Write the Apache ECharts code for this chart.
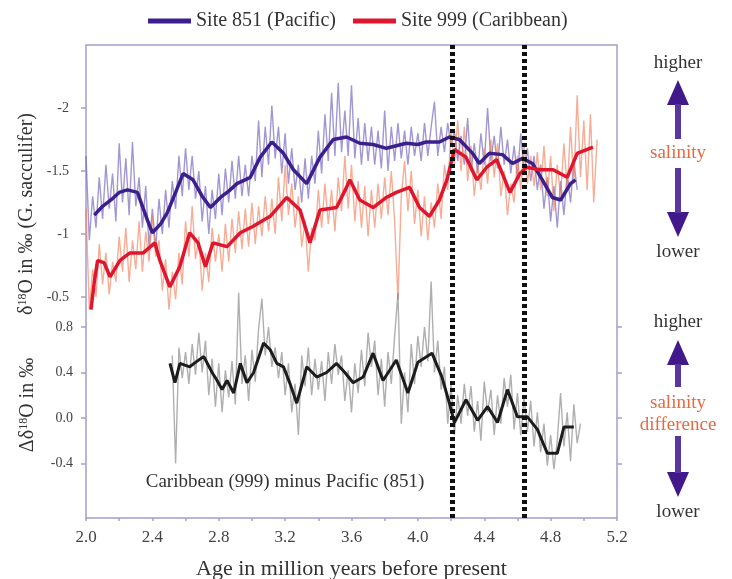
<!DOCTYPE html>
<html>
<head>
<meta charset="utf-8">
<script src="https://cdn.jsdelivr.net/npm/echarts@6/dist/echarts.min.js"></script>
<style>
  html, body { margin: 0; padding: 0; background: #fff; }
  #chart { width: 732px; height: 579px; }
</style>
</head>
<body>
<div id="chart"></div>
<script>
// Age (Ma) and d18O (per mil) records
const pacificRaw = [
  [2.00,-1.62],[2.02,-0.95],[2.04,-1.30],[2.06,-1.05],[2.08,-1.45],[2.10,-1.12],[2.12,-1.55],[2.14,-1.20],[2.16,-1.48],[2.18,-1.10],
  [2.20,-1.72],[2.22,-1.25],[2.24,-1.60],[2.26,-1.15],[2.28,-1.73],[2.30,-1.22],[2.32,-1.45],[2.34,-1.05],[2.36,-1.38],[2.38,-0.90],
  [2.40,-1.20],[2.42,-0.88],[2.44,-1.28],[2.46,-1.00],[2.48,-1.35],[2.50,-1.05],[2.52,-1.42],[2.54,-1.20],[2.56,-1.62],[2.58,-1.30],
  [2.60,-1.68],[2.62,-1.35],[2.64,-1.62],[2.66,-1.28],[2.68,-1.50],[2.70,-1.10],[2.72,-1.38],[2.74,-1.00],[2.76,-1.35],[2.78,-1.12],
  [2.80,-1.48],[2.82,-1.15],[2.84,-1.52],[2.86,-1.25],[2.88,-1.58],[2.90,-1.28],[2.92,-1.62],[2.94,-1.30],[2.96,-1.55],[2.98,-1.30],
  [3.00,-1.62],[3.02,-1.42],[3.04,-1.90],[3.06,-1.45],[3.08,-1.85],[3.10,-1.55],[3.12,-2.02],[3.14,-1.60],[3.16,-1.85],[3.18,-1.48],
  [3.20,-1.80],[3.22,-1.40],[3.24,-1.68],[3.26,-1.35],[3.28,-1.55],[3.30,-1.25],[3.32,-1.60],[3.34,-1.28],[3.36,-1.62],[3.38,-1.40],
  [3.40,-1.82],[3.42,-1.48],[3.44,-1.95],[3.46,-1.58],[3.48,-2.12],[3.50,-1.62],[3.52,-2.20],[3.54,-1.65],[3.56,-1.98],[3.58,-1.62],
  [3.60,-2.18],[3.62,-1.60],[3.64,-1.92],[3.66,-1.55],[3.68,-1.88],[3.70,-1.58],[3.72,-1.85],[3.74,-1.55],[3.76,-1.82],[3.78,-1.52],
  [3.80,-1.98],[3.82,-1.50],[3.84,-1.85],[3.86,-1.58],[3.88,-1.88],[3.90,-1.60],[3.92,-1.82],[3.94,-1.55],[3.96,-1.85],[3.98,-1.62],
  [4.00,-1.80],[4.02,-1.58],[4.04,-1.88],[4.06,-1.62],[4.08,-1.85],[4.10,-2.05],[4.12,-1.62],[4.14,-1.85],[4.16,-1.65],[4.18,-1.88],
  [4.20,-1.70],[4.22,-1.82],[4.24,-1.58],[4.26,-1.78],[4.28,-1.55],[4.30,-1.92],[4.32,-1.50],[4.34,-1.72],[4.36,-1.48],[4.38,-1.80],
  [4.40,-1.55],[4.42,-2.00],[4.44,-1.58],[4.46,-1.78],[4.48,-1.52],[4.50,-1.85],[4.52,-1.55],[4.54,-1.75],[4.56,-1.48],[4.58,-1.70],
  [4.60,-1.45],[4.62,-1.80],[4.64,-1.50],[4.66,-1.68],[4.68,-1.42],[4.70,-1.62],[4.72,-1.35],[4.74,-1.55],[4.76,-1.20],[4.78,-1.45],
  [4.80,-1.10],[4.82,-1.38],[4.84,-1.05],[4.86,-1.42],[4.88,-1.15],[4.90,-1.48],[4.92,-1.25],[4.94,-1.58],[4.96,-1.35]
];
const pacificSmooth = [
  [2.05,-1.15],[2.10,-1.22],[2.15,-1.27],[2.20,-1.33],[2.25,-1.35],[2.31,-1.33],[2.37,-1.11],[2.40,-1.01],[2.45,-1.08],[2.49,-1.17],
  [2.54,-1.33],[2.585,-1.48],[2.645,-1.43],[2.70,-1.30],[2.75,-1.21],[2.81,-1.29],[2.86,-1.34],[2.91,-1.40],[2.99,-1.45],[3.05,-1.61],
  [3.12,-1.73],[3.19,-1.64],[3.25,-1.51],[3.33,-1.40],[3.41,-1.61],[3.49,-1.75],[3.57,-1.77],[3.65,-1.72],[3.73,-1.71],[3.81,-1.68],
  [3.87,-1.70],[3.93,-1.72],[4.00,-1.71],[4.05,-1.73],[4.13,-1.73],[4.19,-1.77],[4.25,-1.75],[4.33,-1.64],[4.37,-1.56],[4.43,-1.64],
  [4.51,-1.63],[4.57,-1.56],[4.63,-1.60],[4.69,-1.56],[4.75,-1.43],[4.81,-1.29],[4.86,-1.27],[4.92,-1.40],[4.95,-1.43]
];
const caribbeanRaw = [
  [2.00,-1.20],[2.02,-0.40],[2.04,-0.72],[2.06,-0.50],[2.08,-0.92],[2.10,-0.60],[2.12,-0.85],[2.14,-0.52],[2.16,-0.78],[2.18,-0.62],
  [2.20,-0.98],[2.22,-0.70],[2.24,-1.05],[2.26,-0.62],[2.28,-0.95],[2.30,-0.72],[2.32,-1.10],[2.34,-0.70],[2.36,-1.02],[2.38,-0.78],
  [2.40,-1.15],[2.42,-0.82],[2.44,-0.95],[2.46,-0.55],[2.48,-0.80],[2.50,-0.40],[2.52,-0.70],[2.54,-0.48],[2.56,-0.85],[2.58,-0.60],
  [2.60,-1.10],[2.62,-0.82],[2.64,-1.22],[2.66,-0.80],[2.68,-0.98],[2.70,-0.55],[2.72,-0.85],[2.74,-0.62],[2.76,-1.05],[2.78,-0.78],
  [2.80,-1.00],[2.82,-0.70],[2.84,-1.08],[2.86,-0.78],[2.88,-1.12],[2.90,-0.85],[2.92,-1.18],[2.94,-0.88],[2.96,-1.20],[2.98,-0.90],
  [3.00,-1.25],[3.02,-0.92],[3.04,-1.22],[3.06,-0.98],[3.08,-1.30],[3.10,-1.02],[3.12,-1.28],[3.14,-1.00],[3.16,-1.45],[3.18,-1.10],
  [3.20,-1.55],[3.22,-1.15],[3.24,-1.40],[3.26,-1.05],[3.28,-1.30],[3.30,-0.90],[3.32,-1.10],[3.34,-0.70],[3.36,-1.05],[3.38,-0.95],
  [3.40,-1.35],[3.42,-1.05],[3.44,-1.40],[3.46,-1.08],[3.48,-1.35],[3.50,-1.02],[3.52,-1.45],[3.54,-1.18],[3.56,-1.62],[3.58,-1.20],
  [3.60,-1.55],[3.62,-1.10],[3.64,-1.42],[3.66,-1.05],[3.68,-1.38],[3.70,-0.98],[3.72,-1.35],[3.74,-1.05],[3.76,-1.40],[3.78,-1.12],
  [3.80,-1.45],[3.82,-1.15],[3.84,-1.50],[3.86,-1.10],[3.88,-0.48],[3.90,-1.30],[3.92,-1.58],[3.94,-1.18],[3.96,-1.50],[3.98,-1.08],
  [4.00,-1.35],[4.02,-0.98],[4.04,-1.30],[4.06,-0.95],[4.08,-1.25],[4.10,-1.05],[4.12,-1.40],[4.14,-1.12],[4.16,-1.55],[4.18,-1.35],
  [4.20,-1.82],[4.22,-1.55],[4.24,-1.90],[4.26,-1.50],[4.28,-1.85],[4.30,-1.42],[4.32,-1.70],[4.34,-1.30],[4.36,-1.55],[4.38,-1.35],
  [4.40,-1.68],[4.42,-1.40],[4.44,-1.75],[4.46,-1.45],[4.48,-1.72],[4.50,-1.30],[4.52,-1.50],[4.54,-1.15],[4.56,-1.40],[4.58,-1.25],
  [4.60,-1.62],[4.62,-1.35],[4.64,-1.70],[4.66,-1.40],[4.68,-1.62],[4.70,-1.38],[4.72,-1.65],[4.74,-1.35],[4.76,-1.70],[4.78,-1.30],
  [4.80,-1.62],[4.82,-1.18],[4.84,-1.55],[4.86,-1.30],[4.88,-1.72],[4.90,-1.35],[4.92,-1.85],[4.94,-1.40],[4.96,-2.10],[4.98,-1.45],
  [5.00,-1.90],[5.02,-1.35],[5.04,-1.95],[5.06,-1.25],[5.08,-1.75]
];
const caribbeanSmooth = [
  [2.03,-0.40],[2.05,-0.62],[2.07,-0.79],[2.11,-0.77],[2.145,-0.66],[2.205,-0.79],[2.265,-0.85],[2.345,-0.85],[2.415,-0.93],[2.445,-0.79],
  [2.505,-0.58],[2.565,-0.74],[2.625,-1.01],[2.675,-0.93],[2.72,-0.74],[2.765,-0.93],[2.85,-0.90],[2.93,-1.01],[3.005,-1.06],[3.11,-1.14],
  [3.21,-1.29],[3.29,-1.19],[3.35,-0.93],[3.41,-1.19],[3.51,-1.21],[3.57,-1.37],[3.59,-1.43],[3.65,-1.27],[3.73,-1.21],[3.81,-1.29],
  [3.87,-1.33],[3.95,-1.37],[4.01,-1.21],[4.07,-1.14],[4.13,-1.27],[4.175,-1.43],[4.22,-1.67],[4.29,-1.61],[4.355,-1.43],[4.415,-1.53],
  [4.475,-1.59],[4.555,-1.33],[4.615,-1.48],[4.655,-1.53],[4.735,-1.51],[4.815,-1.51],[4.90,-1.45],[4.96,-1.64],[5.055,-1.69]
];
// Caribbean minus Pacific difference
const diffRaw = [
  [2.52,0.55],[2.54,-0.40],[2.56,0.62],[2.58,0.35],[2.60,0.58],[2.62,0.30],[2.64,0.65],[2.66,0.38],[2.68,0.75],[2.70,0.40],
  [2.72,0.68],[2.74,0.20],[2.76,0.52],[2.78,0.10],[2.80,0.48],[2.82,0.05],[2.84,0.42],[2.86,0.18],[2.88,0.50],[2.90,0.12],
  [2.92,1.10],[2.94,0.30],[2.96,0.55],[2.98,0.15],[3.00,0.60],[3.02,0.32],[3.04,0.78],[3.06,1.05],[3.08,0.55],[3.10,0.80],
  [3.12,0.45],[3.14,0.62],[3.16,0.35],[3.18,0.58],[3.20,0.20],[3.22,0.48],[3.24,0.05],[3.26,0.30],[3.28,-0.15],[3.30,0.55],
  [3.32,0.28],[3.34,0.62],[3.36,0.20],[3.38,0.52],[3.40,0.25],[3.42,0.50],[3.44,0.15],[3.46,0.58],[3.48,0.30],[3.50,0.65],
  [3.52,0.38],[3.54,0.55],[3.56,0.15],[3.58,0.42],[3.60,0.05],[3.62,0.48],[3.64,0.22],[3.66,0.60],[3.68,0.28],[3.70,0.75],
  [3.72,0.45],[3.74,0.68],[3.76,0.20],[3.78,0.52],[3.80,0.10],[3.82,0.58],[3.84,0.30],[3.86,0.72],[3.88,1.10],[3.90,-0.05],
  [3.92,0.40],[3.94,0.05],[3.96,0.65],[3.98,0.30],[4.00,0.72],[4.02,0.45],[4.04,0.80],[4.06,0.50],[4.08,1.20],[4.10,0.40],
  [4.12,0.68],[4.14,0.25],[4.16,0.45],[4.18,-0.05],[4.20,0.30],[4.22,-0.15],[4.24,0.20],[4.26,-0.05],[4.28,0.30],[4.30,0.02],
  [4.32,0.28],[4.34,-0.12],[4.36,0.15],[4.38,-0.20],[4.40,0.32],[4.42,0.05],[4.44,0.25],[4.46,-0.15],[4.48,0.20],[4.50,-0.05],
  [4.52,0.35],[4.54,0.10],[4.56,0.38],[4.58,-0.10],[4.60,0.22],[4.62,-0.15],[4.64,0.18],[4.66,-0.12],[4.68,0.15],[4.70,-0.25],
  [4.72,0.05],[4.74,-0.30],[4.76,-0.05],[4.78,-0.42],[4.80,-0.15],[4.82,-0.45],[4.84,-0.20],[4.86,0.22],[4.88,-0.25],[4.90,0.05],
  [4.92,-0.38],[4.94,0.12],[4.96,-0.22],[4.98,-0.05]
];
const diffSmooth = [
  [2.506,0.48],[2.536,0.31],[2.566,0.48],[2.625,0.45],[2.67,0.50],[2.71,0.54],[2.76,0.40],[2.79,0.33],[2.82,0.25],[2.85,0.33],
  [2.89,0.22],[2.93,0.48],[2.97,0.31],[3.01,0.40],[3.07,0.66],[3.11,0.60],[3.15,0.48],[3.19,0.45],[3.23,0.30],[3.27,0.13],
  [3.33,0.45],[3.39,0.36],[3.45,0.40],[3.51,0.48],[3.56,0.40],[3.61,0.31],[3.67,0.36],[3.73,0.57],[3.79,0.33],[3.87,0.51],
  [3.94,0.22],[4.00,0.49],[4.085,0.57],[4.145,0.36],[4.19,0.13],[4.22,-0.04],[4.29,0.16],[4.36,-0.02],[4.42,0.10],[4.48,-0.04],
  [4.54,0.25],[4.60,0.01],[4.66,0.01],[4.72,-0.10],[4.78,-0.31],[4.84,-0.31],[4.88,-0.08],[4.94,-0.08]
];
const boundaryAges = [4.21, 4.64];
const topTicks = [-2, -1.5, -1, -0.5];
const diffTicks = [0.8, 0.4, 0.0, -0.4];

const SERIF = '"Liberation Serif", "DejaVu Serif", serif';
const FRAME = '#a79dcb';
const ARROW = '#42198a';

const chart = echarts.init(document.getElementById('chart'), null, { renderer: 'canvas' });

// both panels share one plotting rectangle; only the y scales differ
const gridBox = { left: 86, right: 115, top: 45, bottom: 61, outerBoundsMode: 'none', containLabel: false };

function arrow(cx, tipY, baseY, shaftEnd, up) {
  // head triangle + shaft
  return [
    { type: 'polygon', shape: { points: [[cx, tipY], [cx - 11, baseY], [cx + 11, baseY]] }, style: { fill: ARROW } },
    { type: 'rect', shape: up ? { x: cx - 3, y: baseY - 1, width: 6, height: shaftEnd - baseY + 1 }
                             : { x: cx - 3, y: shaftEnd, width: 6, height: baseY - shaftEnd + 1 },
      style: { fill: '#5a37a0' } }
  ];
}

function label(x, y, text, color, size) {
  return { type: 'text', x: x, y: y, style: { text: text, fill: color || '#333', font: (size || 19) + 'px ' + SERIF, align: 'center', verticalAlign: 'middle' } };
}

const option = {
  backgroundColor: '#fff',
  animation: false,
  legend: {
    data: ['Site 851 (Pacific)', 'Site 999 (Caribbean)'],
    left: 148, top: 11, padding: 0,
    icon: 'rect', itemWidth: 43, itemHeight: 5, itemGap: 17,
    textStyle: { fontFamily: SERIF, fontSize: 20, color: '#333' }
  },
  grid: [
    Object.assign({ show: true, borderColor: FRAME, borderWidth: 1.5, backgroundColor: 'transparent' }, gridBox),
    Object.assign({ show: false }, gridBox)
  ],
  xAxis: [
    {
      type: 'value', gridIndex: 0, position: 'bottom', min: 2.0, max: 5.2, interval: 0.2,
      axisLine: { show: false, onZero: false },
      axisTick: { show: true, inside: false, length: 3, lineStyle: { color: FRAME, width: 1.5 } },
      axisLabel: {
        margin: 11, fontFamily: SERIF, fontSize: 17, color: '#444',
        formatter: v => (Math.round(v * 10) % 4 === 0 ? v.toFixed(1) : '')
      },
      splitLine: { show: false },
      name: 'Age in million years before present', nameLocation: 'middle', nameGap: 40,
      nameTextStyle: { fontFamily: SERIF, fontSize: 22, color: '#333' }
    },
    { type: 'value', gridIndex: 1, min: 2.0, max: 5.2, show: false, axisLine: { onZero: false } }
  ],
  yAxis: [
    {
      type: 'value', gridIndex: 0, inverse: true, min: -2.5, max: 1.254,
      axisLine: { show: false, onZero: false },
      axisTick: { show: true, length: 5, customValues: topTicks, lineStyle: { color: FRAME, width: 1.5 } },
      axisLabel: { customValues: topTicks, margin: 17, fontFamily: SERIF, fontSize: 14, color: '#444', formatter: v => String(v) },
      splitLine: { show: false }
    },
    {
      type: 'value', gridIndex: 1, min: -0.879, max: 3.279,
      axisLine: { show: false, onZero: false },
      axisTick: { show: true, length: 5, customValues: diffTicks, lineStyle: { color: FRAME, width: 1.5 } },
      axisLabel: { customValues: diffTicks, margin: 13, fontFamily: SERIF, fontSize: 14, color: '#444', formatter: v => v.toFixed(1) },
      splitLine: { show: false }
    },
    {
      type: 'value', gridIndex: 1, position: 'right', min: -0.879, max: 3.279,
      axisLine: { show: false, onZero: false },
      axisTick: { show: true, length: 5, customValues: diffTicks, lineStyle: { color: FRAME, width: 1.5 } },
      axisLabel: { show: false, customValues: diffTicks },
      splitLine: { show: false }
    }
  ],
  series: [
    {
      name: 'pacific-raw', type: 'line', xAxisIndex: 0, yAxisIndex: 0, data: pacificRaw, showSymbol: false, symbol: 'none',
      lineStyle: { color: 'rgba(100,82,178,0.6)', width: 1.4 }, z: 2
    },
    {
      name: 'caribbean-raw', type: 'line', xAxisIndex: 0, yAxisIndex: 0, data: caribbeanRaw, showSymbol: false, symbol: 'none',
      lineStyle: { color: 'rgba(240,118,78,0.6)', width: 1.4 }, z: 2
    },
    {
      name: 'Site 851 (Pacific)', type: 'line', xAxisIndex: 0, yAxisIndex: 0, data: pacificSmooth, showSymbol: false, symbol: 'none',
      itemStyle: { color: '#3b1f8c' }, lineStyle: { color: '#3b1f8c', width: 3.5 }, z: 3
    },
    {
      name: 'Site 999 (Caribbean)', type: 'line', xAxisIndex: 0, yAxisIndex: 0, data: caribbeanSmooth, showSymbol: false, symbol: 'none',
      itemStyle: { color: '#e0152e' }, lineStyle: { color: '#e0152e', width: 3.5 }, z: 4,
      markLine: {
        silent: true, symbol: 'none', z: 10,
        label: { show: false },
        lineStyle: { color: '#111', width: 5, type: [4, 3] },
        data: boundaryAges.map(a => ({ xAxis: a }))
      }
    },
    {
      name: 'diff-raw', type: 'line', xAxisIndex: 1, yAxisIndex: 1, data: diffRaw, showSymbol: false, symbol: 'none',
      lineStyle: { color: 'rgba(95,95,95,0.5)', width: 1.4 }, z: 2
    },
    {
      name: 'diff-smooth', type: 'line', xAxisIndex: 1, yAxisIndex: 1, data: diffSmooth, showSymbol: false, symbol: 'none',
      lineStyle: { color: '#1c1c1c', width: 3 }, z: 3
    }
  ],
  graphic: [
    {
      type: 'text', x: 27, y: 214, rotation: Math.PI / 2,
      style: {
        text: '{a|δ}{s|18}{a|O in ‰ (G. sacculifer)}', align: 'center', verticalAlign: 'middle',
        rich: {
          a: { fontFamily: SERIF, fontSize: 20, fill: '#333' },
          s: { fontFamily: SERIF, fontSize: 12, fill: '#333', verticalAlign: 'top', padding: [0, 0, 9, 0] }
        }
      }
    },
    {
      type: 'text', x: 28, y: 405, rotation: Math.PI / 2,
      style: {
        text: '{a|Δδ}{s|18}{a|O in ‰}', align: 'center', verticalAlign: 'middle',
        rich: {
          a: { fontFamily: SERIF, fontSize: 20, fill: '#333' },
          s: { fontFamily: SERIF, fontSize: 12, fill: '#333', verticalAlign: 'top', padding: [0, 0, 9, 0] }
        }
      }
    },
    label(285, 482, 'Caribbean (999) minus Pacific (851)', '#333', 19),
    label(678, 63, 'higher'),
    ...arrow(678, 80, 105, 139, true),
    label(678, 153, 'salinity', '#e8693f'),
    ...arrow(678, 237, 212, 168, false),
    label(678, 252, 'lower'),
    label(678, 322, 'higher'),
    ...arrow(678, 340, 365, 387, true),
    label(678, 403, 'salinity', '#e8693f'),
    label(678, 425, 'difference', '#e8693f'),
    ...arrow(678, 497, 472, 436, false),
    label(678, 512, 'lower')
  ]
};

chart.setOption(option);
</script>
</body>
</html>
